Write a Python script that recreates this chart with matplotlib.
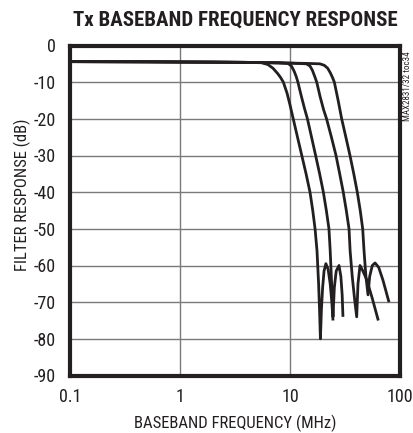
import matplotlib

matplotlib.use("Agg")
import matplotlib.pyplot as plt
from matplotlib.ticker import FixedLocator, NullLocator

plt.rcParams["font.family"] = ["Roboto Condensed", "Archivo Narrow",
                               "DejaVu Sans"]

TITLE = "Tx BASEBAND FREQUENCY RESPONSE"
X_LABEL = "BASEBAND FREQUENCY (MHz)"
Y_LABEL = "FILTER RESPONSE (dB)"
SIDE_NOTE = "MAX2831/32 toc34"

X_TICKS = [0.1, 1, 10, 100]
X_TICK_LABELS = ["0.1", "1", "10", "100"]
Y_TICKS = [0, -10, -20, -30, -40, -50, -60, -70, -80, -90]

# four filter bandwidth settings
FREQ_1 = [0.1, 0.5, 1, 2, 4, 5.5, 6.3, 7.0, 7.7, 8.2, 8.7, 9.4, 10.0, 10.7,
          11.7, 12.8, 14.0, 15.2, 16.1, 16.9, 17.6, 18.2, 18.6, 18.9, 19.3,
          19.8, 20.4, 21.2, 22.2, 23.2, 24.0, 24.6]
GAIN_1 = [-4.4, -4.4, -4.5, -4.5, -4.6, -4.7, -5.2, -6.2, -7.6, -8.7, -10,
          -13, -16.2, -20, -25, -30, -35, -40, -45, -50, -56, -65, -73, -80,
          -72, -66, -61.5, -59.5, -61, -65, -70, -75]

FREQ_2 = [0.1, 1, 4, 8, 9.6, 10.3, 10.9, 11.4, 11.8, 12.6, 13.5, 14.4, 15.7,
          17.1, 18.6, 20.1, 21.4, 22.6, 23.2, 23.9, 24.6, 25.3, 26.3, 27.9,
          29.0, 29.8, 30.3]
GAIN_2 = [-4.4, -4.5, -4.6, -4.7, -4.9, -5.6, -7.0, -8.5, -10, -13.5, -17,
          -20, -25, -30, -35, -40, -45, -50, -56, -65, -74, -66, -61.5, -60,
          -63, -68, -74]

FREQ_3 = [0.1, 1, 4, 10, 14.1, 15.2, 16.0, 16.8, 17.5, 18.8, 20.2, 21.5,
          23.8, 26.2, 28.3, 30.5, 32.5, 34.4, 35.2, 36.8, 38.6, 40.4, 41.5,
          43.3, 46.0, 50.0, 56.0, 63.5]
GAIN_3 = [-4.4, -4.5, -4.6, -4.8, -5.0, -5.6, -6.8, -8.5, -10, -14, -17.5,
          -20, -25, -30, -35, -40, -45, -50, -56, -63, -69, -74, -65, -60,
          -61.5, -64, -69, -75]

FREQ_4 = [0.1, 1, 4, 10, 15, 18.7, 20.5, 22.0, 23.3, 24.4, 25.3, 27.4, 29.5,
          32.2, 35.1, 38.0, 40.9, 43.5, 45.8, 47.1, 49.0, 51.2, 53.0, 56.0,
          59.3, 64.0, 70.0, 79.4]
GAIN_4 = [-4.4, -4.5, -4.6, -4.8, -4.9, -5.0, -5.4, -6.2, -7.5, -8.8, -10,
          -15, -20, -25, -30, -35, -40, -45, -50, -56, -63, -68, -63, -60,
          -59.3, -60.5, -64, -70]

CURVES = [(FREQ_1, GAIN_1), (FREQ_2, GAIN_2), (FREQ_3, GAIN_3), (FREQ_4, GAIN_4)]


def main() -> None:
    figure = plt.figure(figsize=(4.14, 4.33), dpi=100)
    axis = figure.add_axes([70 / 414, 1 - 375.5 / 433, 330 / 414, 330 / 433])

    for freq, gain in CURVES:
        axis.plot(freq, gain, color="#231f20", linewidth=2.0,
                  solid_joinstyle="round", solid_capstyle="butt", zorder=3)

    axis.set_xscale("log")
    axis.set_xlim(0.1, 100)
    axis.set_ylim(-90, 0)
    axis.xaxis.set_major_locator(FixedLocator(X_TICKS))
    axis.xaxis.set_minor_locator(NullLocator())
    axis.set_xticklabels(X_TICK_LABELS)
    axis.set_yticks(Y_TICKS)
    axis.set_yticklabels([str(v) for v in Y_TICKS])
    axis.tick_params(axis="both", length=0, labelsize=13, colors="#231f20")
    axis.tick_params(axis="y", pad=10)
    axis.tick_params(axis="x", pad=9)
    axis.grid(True, color="#7a7a7a", linewidth=1.0)
    axis.set_axisbelow(True)
    for spine in axis.spines.values():
        spine.set_linewidth(3.0)
        spine.set_color("#231f20")

    axis.set_xlabel(X_LABEL, fontsize=12, labelpad=6, color="#231f20")
    axis.set_ylabel(Y_LABEL, fontsize=12, color="#231f20")
    axis.yaxis.set_label_coords(-39 / 330, (375.5 - 195) / 330)
    axis.set_title(TITLE, fontsize=15, fontweight="heavy", pad=14,
                   color="#231f20")
    figure.text(408 / 414, 1 - 86 / 433, SIDE_NOTE, rotation=90, fontsize=6.5,
                ha="center", va="center", color="#231f20")

    figure.savefig("out.png", dpi=100)
    plt.close(figure)


if __name__ == "__main__":
    main()
